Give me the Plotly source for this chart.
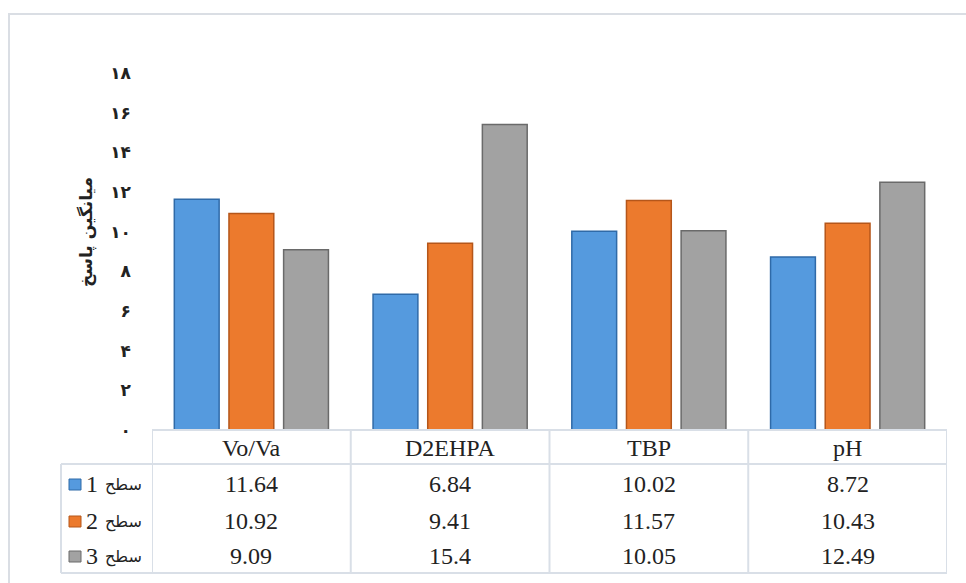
import plotly.graph_objects as go

# Factors and mean responses at each level
categories = ["Vo/Va", "D2EHPA", "TBP", "pH"]
level_names = ["سطح 1", "سطح 2", "سطح 3"]
level_1 = [11.64, 6.84, 10.02, 8.72]
level_2 = [10.92, 9.41, 11.57, 10.43]
level_3 = [9.09, 15.4, 10.05, 12.49]
series = [level_1, level_2, level_3]

y_ticks = [0, 2, 4, 6, 8, 10, 12, 14, 16, 18]
y_tick_text = ["۰", "۲", "۴", "۶", "۸", "۱۰", "۱۲", "۱۴", "۱۶", "۱۸"]
y_title = "میانگین پاسخ"

fill_colors = ["#559ade", "#ec7a2d", "#a2a2a2"]
edge_colors = ["#2f6aa8", "#b5561a", "#6a6a6a"]

W, H = 966, 583


def px(x):
    return x / W


def py(y):
    return (H - y) / H


fig = go.Figure()
for name, vals, fc, ec in zip(level_names, series, fill_colors, edge_colors):
    fig.add_trace(go.Bar(
        x=categories, y=vals, name=name,
        marker=dict(color=fc, line=dict(color=ec, width=1.5)),
        showlegend=False,
    ))

grid = "#d9dfe7"
shapes = [
    # outer chart border
    dict(type="rect", xref="paper", yref="paper", x0=px(9), x1=1.02,
         y0=-0.02, y1=py(14), line=dict(color="#dadee4", width=2)),
    # data-table rules
    dict(type="line", xref="x", yref="paper", x0=-0.5, x1=3.5,
         y0=py(430), y1=py(430), line=dict(color=grid, width=2)),
    dict(type="line", xref="paper", yref="paper", x0=px(61), x1=px(947),
         y0=py(464), y1=py(464), line=dict(color=grid, width=2)),
    dict(type="line", xref="paper", yref="paper", x0=px(61), x1=px(947),
         y0=py(573), y1=py(573), line=dict(color=grid, width=2)),
    dict(type="line", xref="paper", yref="paper", x0=px(61), x1=px(61),
         y0=py(464), y1=py(573), line=dict(color=grid, width=2)),
]
for k in range(len(categories) + 1):
    shapes.append(dict(type="line", xref="x", yref="paper", x0=k - 0.5, x1=k - 0.5,
                       y0=py(430), y1=py(573), line=dict(color=grid, width=2)))

row_y = [484, 521, 556]
annotations = []
serif = dict(family="Liberation Serif, Times New Roman, serif", size=24, color="#222222")

# header row with factor names
for c in categories:
    annotations.append(dict(x=c, xref="x", y=py(448), yref="paper", text=c,
                            showarrow=False, font=serif, xanchor="center", yanchor="middle"))

# value rows with level keys (word on the right, level number to its left)
for i, (name, vals, fc, ec) in enumerate(zip(level_names, series, fill_colors, edge_colors)):
    yy = row_y[i]
    for c, v in zip(categories, vals):
        annotations.append(dict(x=c, xref="x", y=py(yy), yref="paper", text=f"{v:g}",
                                showarrow=False, font=serif, xanchor="center", yanchor="middle"))
    word, num = name.split()
    annotations.append(dict(x=px(144), xref="paper", y=py(yy + 1), yref="paper",
                            text=word, showarrow=False,
                            font=dict(family="DejaVu Sans", size=16, color="#222222"),
                            xanchor="right", yanchor="middle"))
    annotations.append(dict(x=px(100), xref="paper", y=py(yy), yref="paper",
                            text=num, showarrow=False, font=serif,
                            xanchor="right", yanchor="middle"))
    shapes.append(dict(type="rect", xref="paper", yref="paper",
                       x0=px(69), x1=px(81), y0=py(yy + 6), y1=py(yy - 5),
                       fillcolor=fc, line=dict(color=ec, width=1)))

# vertical axis title
annotations.append(dict(x=px(86), xref="paper", y=py(232), yref="paper", text=y_title,
                        textangle=-90, showarrow=False,
                        font=dict(family="DejaVu Sans", size=17, color="#222222", weight="bold"),
                        xanchor="center", yanchor="middle"))

fig.update_layout(
    width=W, height=H,
    autosize=False,
    margin=dict(l=0, r=0, t=0, b=0, pad=0),
    paper_bgcolor="white", plot_bgcolor="white",
    barmode="group", bargap=0.175, bargroupgap=0.18,
    shapes=shapes, annotations=annotations,
    xaxis=dict(domain=[px(152), px(947)], type="category", range=[-0.5, 3.5],
               showticklabels=False, showgrid=False, zeroline=False, showline=False,
               ticks="", automargin=False),
    yaxis=dict(domain=[py(430), py(73)], range=[0, 18], tickvals=y_ticks,
               ticktext=y_tick_text, showgrid=False, zeroline=False, showline=False,
               ticks="", ticklabelstandoff=20, automargin=False,
               tickfont=dict(family="DejaVu Sans", size=17, color="#222222", weight="bold")),
)

fig.write_html("out.html")
